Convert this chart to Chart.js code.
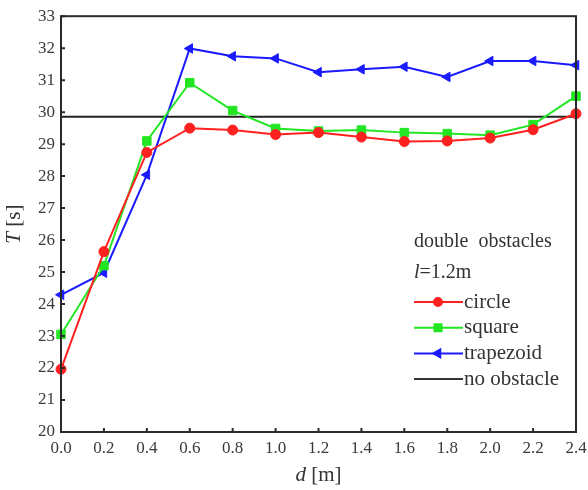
<!DOCTYPE html>
<html>
<head>
<meta charset="utf-8">
<script src="https://cdn.jsdelivr.net/npm/chart.js@4/dist/chart.umd.min.js"></script>
<style>
  html, body { margin: 0; padding: 0; background: #fff; }
  #wrap { width: 588px; height: 490px; }
</style>
</head>
<body>
<div id="wrap"><canvas id="chart"></canvas></div>
<script>
// d [m] positions
const dValues = [0.0, 0.2, 0.4, 0.6, 0.8, 1.0, 1.2, 1.4, 1.6, 1.8, 2.0, 2.2, 2.4]
// T [s] per obstacle shape
const circle    = [21.96, 25.64, 28.74, 29.50, 29.44, 29.30, 29.36, 29.22, 29.08, 29.10, 29.19, 29.45, 29.95]
const square    = [23.05, 25.20, 29.10, 30.92, 30.05, 29.49, 29.41, 29.44, 29.36, 29.33, 29.28, 29.61, 30.50]
const trapezoid = [24.29, 24.98, 28.04, 31.99, 31.75, 31.68, 31.25, 31.34, 31.42, 31.10, 31.60, 31.60, 31.47]
const noObstacle = 29.86
const yTicks = [20, 21, 22, 23, 24, 25, 26, 27, 28, 29, 30, 31, 32, 33]

const FONT = '"Liberation Serif", "Times New Roman", serif'

function pts(values) {
  return values.map((v, i) => ({ x: dValues[i], y: v }))
}

const series = [
  { label: 'circle', data: circle, color: '#ff2020', style: 'circle', rot: 0, r: 5 },
  { label: 'square', data: square, color: '#22e622', style: 'rect', rot: 0, r: 6 },
  { label: 'trapezoid', data: trapezoid, color: '#1a1aff', style: 'triangle', rot: -90, r: 5.5 }
]

const datasets = series.map(s => ({
  label: s.label,
  data: pts(s.data),
  borderColor: s.color,
  backgroundColor: s.color,
  borderWidth: 2,
  pointStyle: s.style,
  pointRotation: s.rot,
  pointRadius: s.r,
  pointBorderWidth: 1,
  clip: false
}))

datasets.push({
  label: 'no obstacle',
  data: [{ x: dValues[0], y: noObstacle }, { x: dValues[dValues.length - 1], y: noObstacle }],
  borderColor: '#222',
  borderWidth: 2,
  pointRadius: 0
})

// inside ticks, frame, axis titles and in-plot legend
const decorations = {
  id: 'decorations',
  afterDraw(chart) {
    const { ctx, chartArea: a, scales } = chart
    ctx.save()

    // frame
    ctx.strokeStyle = '#2a2a2a'
    ctx.lineWidth = 2
    ctx.strokeRect(a.left, a.top, a.right - a.left, a.bottom - a.top)

    // inward ticks
    ctx.beginPath()
    scales.x.ticks.forEach(t => {
      const x = scales.x.getPixelForValue(t.value)
      ctx.moveTo(x, a.bottom)
      ctx.lineTo(x, a.bottom - 4)
    })
    scales.y.ticks.forEach(t => {
      const y = scales.y.getPixelForValue(t.value)
      ctx.moveTo(a.left, y)
      ctx.lineTo(a.left + 4, y)
    })
    ctx.stroke()

    // axis titles
    ctx.fillStyle = '#333'
    ctx.textBaseline = 'middle'
    ctx.textAlign = 'left'
    const cx = (a.left + a.right) / 2
    ctx.font = 'italic 21px ' + FONT
    const dW = ctx.measureText('d').width
    ctx.font = '21px ' + FONT
    const restW = ctx.measureText(' [m]').width
    let sx = cx - (dW + restW) / 2
    ctx.font = 'italic 21px ' + FONT
    ctx.fillText('d', sx, 475)
    ctx.font = '21px ' + FONT
    ctx.fillText(' [m]', sx + dW, 475)

    ctx.save()
    ctx.translate(14, (a.top + a.bottom) / 2)
    ctx.rotate(-Math.PI / 2)
    ctx.font = 'italic 21px ' + FONT
    const tW = ctx.measureText('T').width
    ctx.font = '21px ' + FONT
    const sW = ctx.measureText(' [s]').width
    sx = -(tW + sW) / 2
    ctx.font = 'italic 21px ' + FONT
    ctx.fillText('T', sx, 0)
    ctx.font = '21px ' + FONT
    ctx.fillText(' [s]', sx + tW, 0)
    ctx.restore()

    // legend block
    const lx = 414
    ctx.font = '20px ' + FONT
    ctx.fillText('double  obstacles', lx, 242)
    ctx.font = 'italic 20px ' + FONT
    const lW = ctx.measureText('l').width
    ctx.fillText('l', lx, 273)
    ctx.font = '20px ' + FONT
    ctx.fillText('=1.2m', lx + lW, 273)

    const rows = [
      { label: 'circle', color: '#ff2020', style: 'circle', rot: 0, r: 4 },
      { label: 'square', color: '#22e622', style: 'rect', rot: 0, r: 5 },
      { label: 'trapezoid', color: '#1a1aff', style: 'triangle', rot: -90, r: 4.5 },
      { label: 'no obstacle', color: '#333', style: null }
    ]
    ctx.font = '21px ' + FONT
    rows.forEach((row, i) => {
      const y = 302 + i * 25.7
      ctx.strokeStyle = row.color
      ctx.lineWidth = 2
      ctx.beginPath()
      ctx.moveTo(lx, y)
      ctx.lineTo(lx + 49, y)
      ctx.stroke()
      if (row.style) {
        ctx.fillStyle = row.color
        Chart.helpers.drawPoint(ctx, { pointStyle: row.style, rotation: row.rot, radius: row.r, borderWidth: 1 }, lx + 24, y)
      }
      ctx.fillStyle = '#333'
      ctx.fillText(row.label, lx + 50, y)
    })

    ctx.restore()
  }
}

new Chart(document.getElementById('chart'), {
  type: 'line',
  data: { datasets },
  options: {
    responsive: true,
    maintainAspectRatio: false,
    animation: false,
    layout: { padding: { top: 15, right: 12, left: 0, bottom: 0 } },
    plugins: {
      legend: { display: false },
      tooltip: { enabled: false }
    },
    scales: {
      x: {
        type: 'linear',
        min: 0,
        max: 2.4,
        grid: { display: false, drawTicks: false },
        border: { display: false },
        ticks: {
          stepSize: 0.2,
          padding: 6,
          color: '#3a3a3a',
          font: { size: 17, family: FONT },
          callback: v => v.toFixed(1)
        },
        afterFit: s => { s.height = 58; s.paddingLeft = 0; s.paddingRight = 0 }
      },
      y: {
        min: 20,
        max: 33,
        grid: { display: false, drawTicks: false },
        border: { display: false },
        afterBuildTicks: s => { s.ticks = yTicks.map(v => ({ value: v })) },
        ticks: {
          padding: 6,
          color: '#3a3a3a',
          font: { size: 17, family: FONT }
        },
        afterFit: s => { s.width = 61 }
      }
    }
  },
  plugins: [decorations]
})
</script>
</body>
</html>
